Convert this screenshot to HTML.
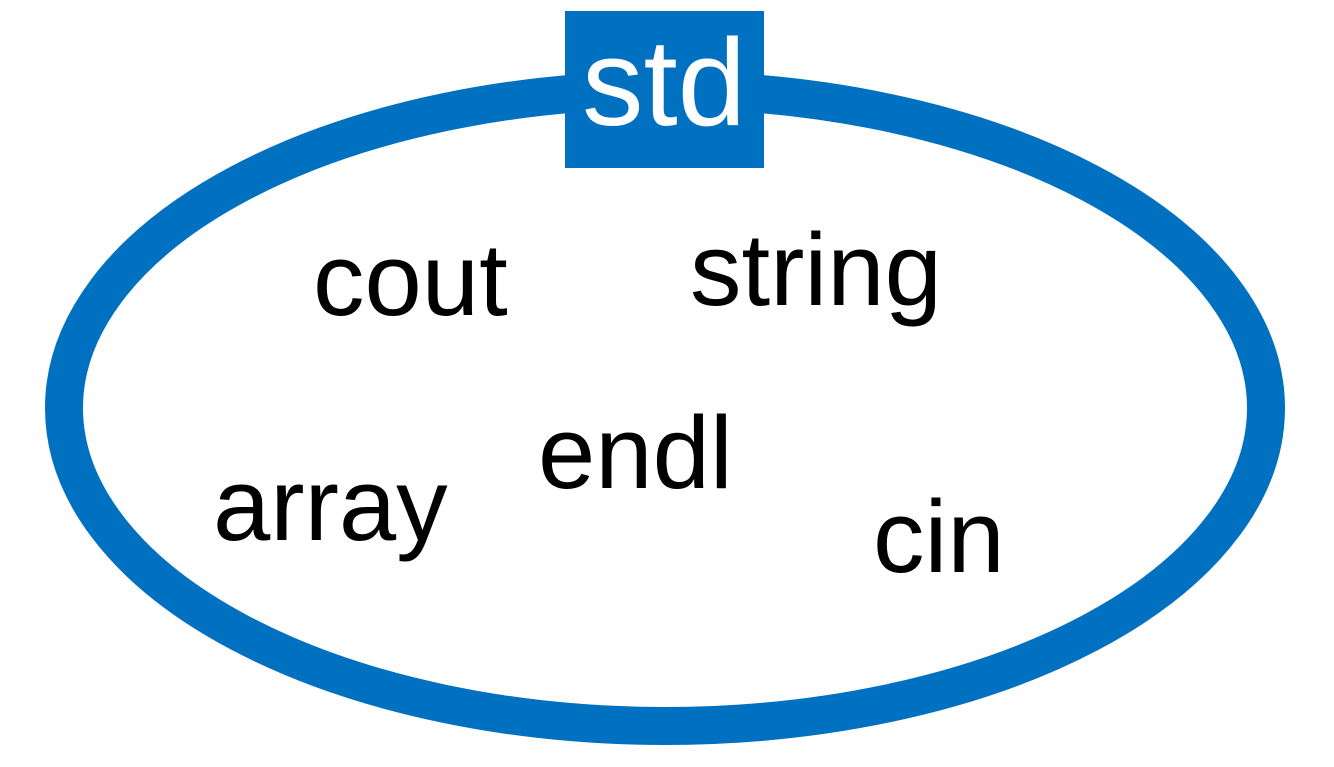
<!DOCTYPE html>
<html>
<head>
<meta charset="utf-8">
<style>
html,body{margin:0;padding:0;background:#fff;}
svg{display:block;}
text{font-family:"Liberation Sans",sans-serif;}
</style>
</head>
<body>
<svg width="1334" height="767" viewBox="0 0 1334 767" xmlns="http://www.w3.org/2000/svg">
<rect width="1334" height="767" fill="#fff"/>
<ellipse cx="665" cy="408" rx="601" ry="318" fill="none" stroke="#0070C0" stroke-width="38"/>
<rect x="565" y="11" width="199" height="157" fill="#0070C0"/>
<text x="664" y="125" font-size="123" fill="#fff" text-anchor="middle">std</text>
<g font-size="103" fill="#000">
<text x="313" y="315">cout</text>
<text x="690" y="305">string</text>
<text x="538" y="488">endl</text>
<text x="213" y="540">array</text>
<text x="873" y="572">cin</text>
</g>
</svg>
</body>
</html>
